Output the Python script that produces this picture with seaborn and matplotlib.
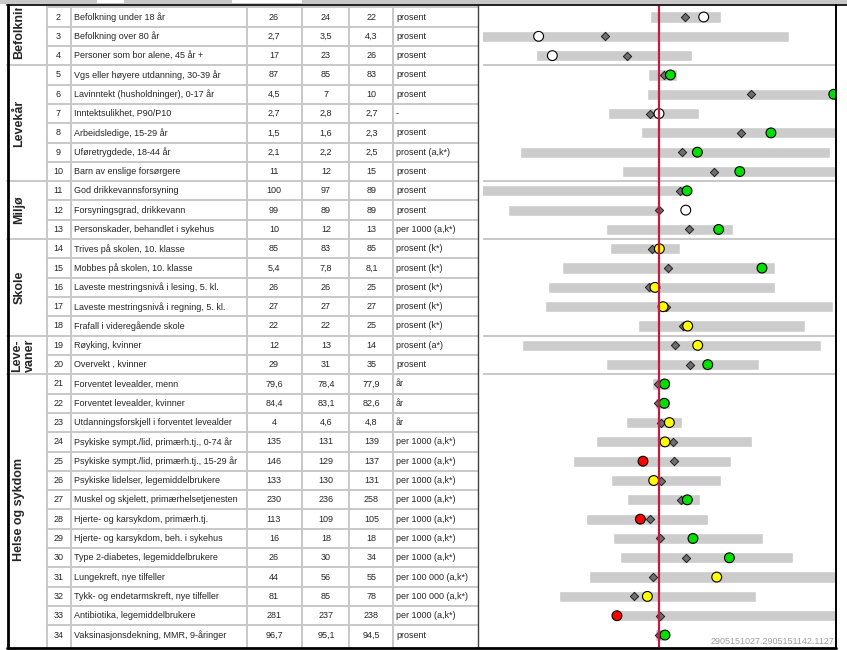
import matplotlib.pyplot as plt
from matplotlib.patches import Rectangle
import seaborn as sns
import pandas as pd

sns.set_theme(style="white")
plt.rcParams['font.family'] = ['Liberation Sans', 'DejaVu Sans']

# Temagrupper (første og siste indikator i gruppen)
group_names = ["Befolkning", "Levekår", "Miljø", "Skole", "Leve-\nvaner", "Helse og sykdom"]
group_first = [1, 5, 11, 14, 19, 21]
group_last = [4, 10, 13, 18, 20, 34]

ind_nr = list(range(2, 35))
ind_names = [
    "Befolkning under 18 år", "Befolkning over 80 år", "Personer som bor alene, 45 år +",
    "Vgs eller høyere utdanning, 30-39 år", "Lavinntekt (husholdninger), 0-17 år",
    "Inntektsulikhet, P90/P10", "Arbeidsledige, 15-29 år", "Uføretrygdede, 18-44 år",
    "Barn av enslige forsørgere", "God drikkevannsforsyning", "Forsyningsgrad, drikkevann",
    "Personskader, behandlet i sykehus", "Trives på skolen, 10. klasse",
    "Mobbes på skolen, 10. klasse", "Laveste mestringsnivå i lesing, 5. kl.",
    "Laveste mestringsnivå i regning, 5. kl.", "Frafall i videregående skole",
    "Røyking, kvinner", "Overvekt , kvinner", "Forventet levealder, menn",
    "Forventet levealder, kvinner", "Utdanningsforskjell i forventet levealder",
    "Psykiske sympt./lid, primærh.tj., 0-74 år", "Psykiske sympt./lid, primærh.tj., 15-29 år",
    "Psykiske lidelser, legemiddelbrukere", "Muskel og skjelett, primærhelsetjenesten",
    "Hjerte- og karsykdom, primærh.tj.", "Hjerte- og karsykdom, beh. i sykehus",
    "Type 2-diabetes, legemiddelbrukere", "Lungekreft, nye tilfeller",
    "Tykk- og endetarmskreft, nye tilfeller", "Antibiotika, legemiddelbrukere",
    "Vaksinasjonsdekning, MMR, 9-åringer",
]
kommune = ["26", "2,7", "17", "87", "4,5", "2,7", "1,5", "2,1", "11", "100", "99", "10",
           "85", "5,4", "26", "27", "22", "12", "29", "79,6", "84,4", "4", "135", "146",
           "133", "230", "113", "16", "26", "44", "81", "281", "96,7"]
fylke = ["24", "3,5", "23", "85", "7", "2,8", "1,6", "2,2", "12", "97", "89", "12",
         "83", "7,8", "26", "27", "22", "13", "31", "78,4", "83,1", "4,6", "131", "129",
         "130", "236", "109", "18", "30", "56", "85", "237", "95,1"]
norge = ["22", "4,3", "26", "83", "10", "2,7", "2,3", "2,5", "15", "89", "89", "13",
         "85", "8,1", "25", "27", "25", "14", "35", "77,9", "82,6", "4,8", "139", "137",
         "131", "258", "105", "18", "34", "55", "78", "238", "94,5"]
units = ["prosent", "prosent", "prosent", "prosent", "prosent", "-", "prosent",
         "prosent (a,k*)", "prosent", "prosent", "prosent", "per 1000 (a,k*)",
         "prosent (k*)", "prosent (k*)", "prosent (k*)", "prosent (k*)", "prosent (k*)",
         "prosent (a*)", "prosent", "år", "år", "år",
         "per 1000 (a,k*)", "per 1000 (a,k*)", "per 1000 (a,k*)", "per 1000 (a,k*)",
         "per 1000 (a,k*)", "per 1000 (a,k*)", "per 1000 (a,k*)",
         "per 100 000 (a,k*)", "per 100 000 (a,k*)", "per 1000 (a,k*)", "prosent"]

# Standardisert skala, landet = 0
bar_min = [-0.05, -1.1, -0.70, -0.06, -0.07, -0.29, -0.10, -0.79, -0.21, -1.1, -0.86,
           -0.30, -0.28, -0.55, -0.63, -0.65, -0.12, -0.78, -0.30, -0.04, -0.02, -0.19,
           -0.36, -0.49, -0.27, -0.18, -0.415, -0.26, -0.22, -0.40, -0.57, -0.25, -0.02]
bar_max = [0.355, 0.74, 0.19, 0.10, 1.1, 0.23, 1.1, 0.97, 1.1, 0.16, 0.0, 0.42, 0.12,
           0.66, 0.66, 0.99, 0.83, 0.92, 0.57, 0.06, 0.06, 0.13, 0.53, 0.41, 0.35, 0.235,
           0.28, 0.59, 0.76, 1.1, 0.55, 1.1, 0.03]
fylke_pos = [0.148, -0.305, -0.184, 0.027, 0.525, -0.053, 0.466, 0.129, 0.315, 0.119,
             0.0, 0.170, -0.038, 0.049, -0.055, 0.040, 0.139, 0.089, 0.176, -0.005,
             -0.006, 0.011, 0.082, 0.085, 0.011, 0.123, -0.051, 0.004, 0.152, -0.036,
             -0.140, 0.004, -0.002]
kommune_pos = [0.254, -0.684, -0.606, 0.065, 0.993, 0.0, 0.636, 0.218, 0.459, 0.159,
               0.152, 0.339, 0.002, 0.585, -0.023, 0.023, 0.163, 0.220, 0.277, 0.032,
               0.030, 0.059, 0.034, -0.091, -0.030, 0.161, -0.106, 0.193, 0.400, 0.328,
               -0.066, -0.239, 0.034]
kommune_farge = ["hvit", "hvit", "hvit", "grønn", "grønn", "hvit", "grønn", "grønn",
                 "grønn", "grønn", "hvit", "grønn", "gul", "grønn", "gul", "gul", "gul",
                 "gul", "grønn", "grønn", "grønn", "gul", "gul", "rød", "gul", "grønn",
                 "rød", "grønn", "grønn", "gul", "gul", "rød", "grønn"]
farger = {"hvit": "white", "grønn": "#00e000", "gul": "#ffff00", "rød": "#ff0000"}


def row_y(nr):
    return 17 + (nr - 2) * 19.3125


fig = plt.figure(figsize=(8.47, 6.5), dpi=100)

# --- diagram til høyre ---
ax = fig.add_axes([483 / 847, 3 / 650, 352 / 847, 642 / 650])
ax.patch.set_alpha(0)
df = pd.DataFrame({"nr": ind_nr, "min": bar_min, "max": bar_max, "fylke": fylke_pos,
                   "kommune": kommune_pos, "farge": kommune_farge})
ax.barh(df["nr"], df["max"] - df["min"], left=df["min"], height=0.58,
        color="#cccccc", zorder=1)
for g in group_first[1:]:
    ax.axhline(g - 0.5, color="#c8c8c8", lw=1.4, zorder=0)
sns.scatterplot(data=df, x="fylke", y="nr", marker="D", s=18, color="#6e6e6e",
                edgecolor="#202020", linewidth=0.7, zorder=3, ax=ax)
sns.scatterplot(data=df, x="kommune", y="nr", hue="farge", palette=farger, s=50,
                edgecolor="black", linewidth=0.8, legend=False, zorder=4, ax=ax)
ax.axvline(0, color="#c41a45", lw=1.6, zorder=5)
ax.set_xlim(-1.0, 1.0)
ax.set_ylim(34.62, 1.379)
ax.axis("off")

# --- tabell til venstre ---
tab = fig.add_axes([0, 0, 1, 1])
tab.set_zorder(3)
tab.patch.set_visible(False)
tab.set_xlim(0, 847)
tab.set_ylim(650, 0)
tab.axis("off")

grid = "#c8c8c8"
bounds = [row_y(n) + 9.656 for n in range(1, 34)]
for n, yb in zip(range(1, 34), bounds):
    x0 = 7 if (n + 1) in group_first else 47
    tab.plot([x0, 478], [yb, yb], color=grid, lw=1.4)
for xv in [47, 71, 247, 301.5, 349, 393]:
    tab.plot([xv, xv], [5, 647], color=grid, lw=1.4)
tab.plot([478, 478], [5, 647], color="#404040", lw=1)

for i, nr in enumerate(ind_nr):
    y = row_y(nr)
    tab.text(58.5, y, str(nr), ha="center", va="center", fontsize=6.5)
    tab.text(74, y, ind_names[i], ha="left", va="center", fontsize=6.5)
    tab.text(274, y, kommune[i], ha="center", va="center", fontsize=6.5)
    tab.text(326, y, fylke[i], ha="center", va="center", fontsize=6.5)
    tab.text(371.5, y, norge[i], ha="center", va="center", fontsize=6.5)
    tab.text(396, y, units[i], ha="left", va="center", fontsize=6.5)

# gruppetekstene, klippet mot tabellens øvre kant slik som i skjermbildet
clip = Rectangle((7, 8), 40, 640, transform=tab.transData)
for name, a, b in zip(group_names, group_first, group_last):
    yc = (row_y(a) + row_y(b)) / 2
    xc = 23.5 if "\n" in name else 19.5
    t = tab.text(xc, yc, name, rotation=90, ha="center", va="center", fontsize=9,
                 fontweight="bold", linespacing=1.0, multialignment="left")
    t.set_clip_on(True)
    t.set_clip_path(clip)

# ramme og grå stripe øverst
tab.add_patch(Rectangle((0, 0), 847, 4.2, color="#c8c8c8", lw=0))
tab.add_patch(Rectangle((97, 0), 27, 3, color="white", lw=0))
tab.add_patch(Rectangle((232, 0), 70, 3, color="white", lw=0))
tab.plot([7, 847], [5, 5], color="#202020", lw=1.4)
tab.plot([7.5, 7.5], [5, 647.5], color="black", lw=2)
tab.plot([7, 835.5], [647.5, 647.5], color="black", lw=2)
tab.plot([835.5, 835.5], [5, 647.5], color="black", lw=1.4)

tab.text(834, 641.5, "2905151027.2905151142.1127", ha="right", va="center",
         fontsize=6.5, color="#a0a0a0")

plt.savefig("out.png", dpi=100)
